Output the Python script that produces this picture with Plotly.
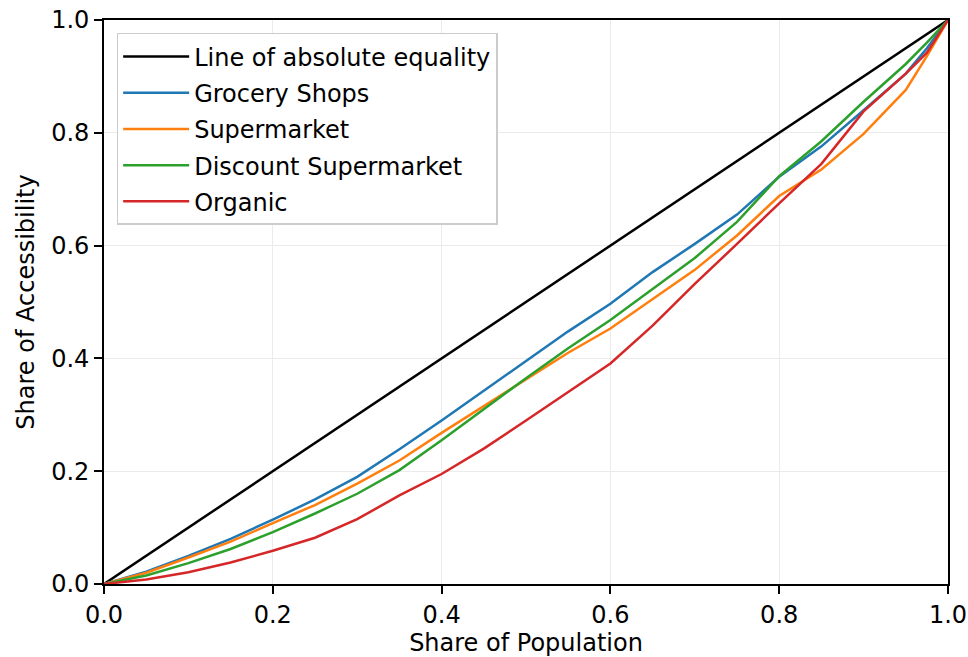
import plotly.graph_objects as go

# share of population (x) and share of accessibility (y)
population = [0.0, 0.05, 0.1, 0.15, 0.2, 0.25, 0.3, 0.35, 0.4, 0.45, 0.5,
              0.55, 0.6, 0.65, 0.7, 0.75, 0.8, 0.85, 0.9, 0.95, 0.975, 1.0]

grocery = [0.0, 0.022, 0.050, 0.080, 0.114, 0.150, 0.190, 0.239, 0.290, 0.343, 0.396,
           0.448, 0.497, 0.553, 0.603, 0.655, 0.722, 0.776, 0.840, 0.905, 0.950, 1.0]
supermarket = [0.0, 0.020, 0.047, 0.075, 0.108, 0.140, 0.178, 0.219, 0.268, 0.315, 0.362,
               0.410, 0.453, 0.505, 0.557, 0.618, 0.688, 0.735, 0.798, 0.876, 0.936, 1.0]
discount = [0.0, 0.015, 0.037, 0.062, 0.092, 0.125, 0.160, 0.202, 0.255, 0.310, 0.365,
            0.418, 0.468, 0.523, 0.578, 0.642, 0.723, 0.785, 0.855, 0.922, 0.960, 1.0]
organic = [0.0, 0.008, 0.021, 0.038, 0.059, 0.082, 0.115, 0.157, 0.195, 0.240, 0.290,
           0.340, 0.391, 0.458, 0.532, 0.603, 0.675, 0.745, 0.838, 0.905, 0.942, 1.0]

equality = [0.0, 1.0]

series = [
    ("Grocery Shops", grocery, "#1f77b4"),
    ("Supermarket", supermarket, "#ff7f0e"),
    ("Discount Supermarket", discount, "#2ca02c"),
    ("Organic", organic, "#d62728"),
]

fig = go.Figure()
fig.add_trace(go.Scatter(x=equality, y=equality, mode="lines",
                         name="Line of absolute equality", legendgroup="eq",
                         line=dict(color="black", width=2.5)))
for name, vals, col in series:
    fig.add_trace(go.Scatter(x=population, y=vals, mode="lines", name=name,
                             legendgroup=name, line=dict(color=col, width=2.5)))

axis_style = dict(range=[0, 1], dtick=0.2, tickformat=".1f", automargin=False,
                  ticklabeloverflow="allow",
                  showline=True, linecolor="black", linewidth=1.8, mirror=True,
                  ticks="outside", ticklen=8, tickcolor="black", tickwidth=1.5,
                  showgrid=True, gridcolor="#ebebeb", zeroline=False,
                  tickfont=dict(size=24, color="black"))

fig.update_xaxes(title=dict(text="Share of Population", font=dict(size=24, color="black"), standoff=13),
                 **axis_style)
fig.update_yaxes(title=dict(text="Share of Accessibility", font=dict(size=24, color="black"), standoff=10),
                 **axis_style)

fig.update_layout(
    width=968, height=657,
    margin=dict(l=104, r=20, t=20, b=73),
    plot_bgcolor="white", paper_bgcolor="white",
    font=dict(family="DejaVu Sans", size=24, color="black"),
    legend=dict(x=0.015, y=0.977, xanchor="left", yanchor="top",
                bgcolor="white", bordercolor="#cccccc", borderwidth=1.5,
                font=dict(size=24), traceorder="grouped", tracegroupgap=2,
                itemwidth=66),
)

# drop the browser's default body margin so the figure fills the window
fig.write_html("out.html", config={"displayModeBar": False},
               post_script="document.body.style.margin='0';")
